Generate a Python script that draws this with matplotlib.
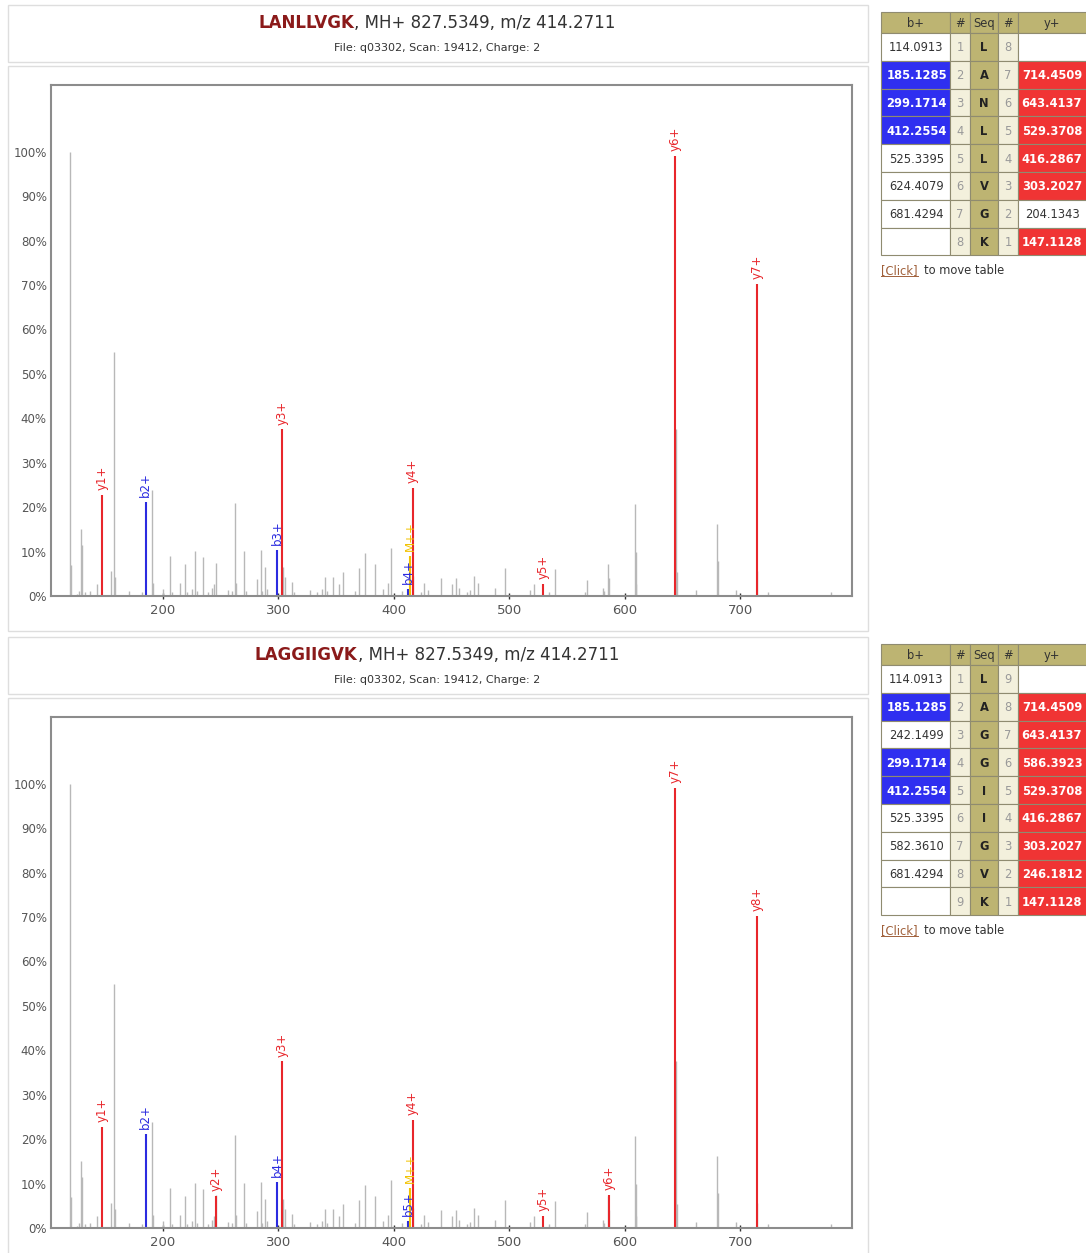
import matplotlib
matplotlib.use('Agg')
import matplotlib.pyplot as plt
from matplotlib.patches import Rectangle

W, H = 1086, 1253

# all peaks of the scan (m/z, relative intensity %)
peak_mz = [119.5, 120.6, 125.2, 127.5, 128.9, 129.6, 132.5, 136.8, 142.7, 154.9,
           157.3, 158.5, 171.0, 181.9, 190.9, 191.8, 200.4, 206.4, 207.6, 214.9,
           219.0, 220.6, 225.0, 227.5, 229.3, 234.8, 239.4, 242.3, 244.0, 246.2,
           256.7, 259.6, 262.2, 263.3, 270.5, 272.0, 281.8, 284.7, 286.1, 288.4,
           290.4, 303.9, 305.9, 311.5, 313.5, 327.4, 333.2, 337.5, 340.5, 341.8,
           347.0, 352.5, 356.1, 366.2, 370.0, 374.9, 383.5, 390.7, 395.1, 398.0,
           406.7, 416.6, 424.0, 426.3, 429.7, 441.3, 450.8, 454.3, 456.3, 463.0,
           465.8, 469.3, 473.0, 487.4, 496.4, 517.7, 521.5, 534.5, 539.4, 565.4,
           567.7, 581.2, 582.5, 585.6, 586.5, 608.7, 609.5, 610.2, 644.2, 645.3,
           662.0, 680.2, 680.7, 696.1, 714.9, 724.1, 779.0]
peak_int = [100, 6.9, 0.4, 1.1, 15.0, 11.4, 0.8, 1.1, 2.8, 5.6,
            54.8, 4.2, 1.1, 0.8, 23.8, 3.0, 1.5, 9.1, 0.8, 3.0,
            7.2, 0.8, 1.5, 10.2, 1.1, 8.8, 0.8, 1.9, 2.7, 7.4,
            1.3, 1.1, 20.9, 3.0, 10.1, 1.1, 3.8, 10.3, 1.1, 6.5,
            1.5, 6.5, 4.2, 3.2, 0.8, 1.3, 0.8, 1.5, 4.3, 1.1,
            4.2, 2.8, 5.3, 1.1, 6.3, 9.6, 7.3, 1.5, 3.0, 10.8,
            1.1, 4.5, 0.8, 3.0, 1.3, 4.1, 2.6, 4.1, 1.9, 0.8,
            1.3, 4.5, 3.0, 1.7, 6.4, 1.3, 2.6, 0.8, 6.0, 0.8,
            3.6, 1.9, 1.1, 7.1, 4.1, 20.7, 9.8, 2.8, 37.5, 5.3,
            1.3, 16.3, 7.9, 1.3, 5.6, 0.9, 0.9]

title_rest = ', MH+ 827.5349, m/z 414.2711'
subtitle = 'File: q03302, Scan: 19412, Charge: 2'

# candidate 1
seq_1 = 'LANLLVGK'
ion_lab_1 = ['y1+', 'b2+', 'b3+', 'y3+', 'b4+', 'M++', 'y4+', 'y5+', 'y6+', 'y7+']
ion_mz_1 = [147.1128, 185.1285, 299.1714, 303.2027, 412.2554, 414.2711, 416.2867,
            529.3708, 643.4137, 714.4509]
ion_int_1 = [22.8, 21.1, 10.3, 37.5, 1.5, 9.0, 24.4, 2.8, 99.0, 70.2]
b_vals_1 = ['114.0913', '185.1285', '299.1714', '412.2554', '525.3395', '624.4079',
            '681.4294', '']
y_vals_1 = ['', '714.4509', '643.4137', '529.3708', '416.2867', '303.2027',
            '204.1343', '147.1128']

# candidate 2
seq_2 = 'LAGGIIGVK'
ion_lab_2 = ['y1+', 'b2+', 'y2+', 'b4+', 'y3+', 'b5+', 'M++', 'y4+', 'y5+', 'y6+',
             'y7+', 'y8+']
ion_mz_2 = [147.1128, 185.1285, 246.1812, 299.1714, 303.2027, 412.2554, 414.2711,
            416.2867, 529.3708, 586.3923, 643.4137, 714.4509]
ion_int_2 = [22.8, 21.1, 7.3, 10.3, 37.5, 1.5, 9.0, 24.4, 2.8, 7.4, 99.0, 70.2]
b_vals_2 = ['114.0913', '185.1285', '242.1499', '299.1714', '412.2554', '525.3395',
            '582.3610', '681.4294', '']
y_vals_2 = ['', '714.4509', '643.4137', '586.3923', '529.3708', '416.2867',
            '303.2027', '246.1812', '147.1128']

x_ticks = [200, 300, 400, 500, 600, 700]
y_ticks = [0, 10, 20, 30, 40, 50, 60, 70, 80, 90, 100]

ion_color = {'y': '#e8262b', 'b': '#2b2be0', 'M': '#f2c200'}
KHAKI = '#bdb472'
BEIGE = '#f3f0dc'
BLUE = '#2f2ff0'
RED = '#f03434'

plt.rcParams['font.family'] = ['DejaVu Sans']

fig = plt.figure(figsize=(W / 100, H / 100), dpi=100)
fig.patch.set_facecolor('white')
bg = fig.add_axes([0, 0, 1, 1])
bg.set_xlim(0, W)
bg.set_ylim(H, 0)
bg.axis('off')
renderer = fig.canvas.get_renderer()


def box(l, t, r, b, face='white', edge='#dedede', lw=1.0):
    bg.add_patch(Rectangle((l, t), r - l, b - t, facecolor=face, edgecolor=edge, lw=lw))


def draw_table(top, seq, b_vals, y_vals, labels):
    cols = [881, 950, 970, 998, 1018, 1092]
    head_h, row_h = 21, 27.8
    n = len(seq)
    heads = ['b+', '#', 'Seq', '#', 'y+']
    for j, h in enumerate(heads):
        box(cols[j], top, cols[j + 1], top + head_h, KHAKI, '#8f8b70', 0.8)
        bg.text((cols[j] + cols[j + 1]) / 2 if j < 4 else 1052, top + head_h / 2 + 1, h,
                ha='center', va='center', fontsize=8.3, color='#333333')
    for i in range(n):
        t = top + head_h + i * row_h
        cy = t + row_h / 2 + 1
        b_hit = ('b%d+' % (i + 1)) in labels and b_vals[i] != ''
        y_hit = ('y%d+' % (n - i)) in labels and y_vals[i] != ''
        box(cols[0], t, cols[1], t + row_h, BLUE if b_hit else 'white', '#8f8b70', 0.8)
        bg.text((cols[0] + cols[1]) / 2 + 1, cy, b_vals[i], ha='center', va='center',
                fontsize=8.3, color='white' if b_hit else '#333333',
                fontweight='bold' if b_hit else 'normal')
        box(cols[1], t, cols[2], t + row_h, BEIGE, '#8f8b70', 0.8)
        bg.text((cols[1] + cols[2]) / 2, cy, str(i + 1), ha='center', va='center',
                fontsize=8.3, color='#999999')
        box(cols[2], t, cols[3], t + row_h, KHAKI, '#8f8b70', 0.8)
        bg.text((cols[2] + cols[3]) / 2, cy, seq[i], ha='center', va='center',
                fontsize=8.3, color='#222222', fontweight='bold')
        box(cols[3], t, cols[4], t + row_h, BEIGE, '#8f8b70', 0.8)
        bg.text((cols[3] + cols[4]) / 2, cy, str(n - i), ha='center', va='center',
                fontsize=8.3, color='#999999')
        box(cols[4], t, cols[5], t + row_h, RED if y_hit else 'white', '#8f8b70', 0.8)
        bg.text(1052, cy, y_vals[i], ha='center', va='center',
                fontsize=8.3, color='white' if y_hit else '#333333',
                fontweight='bold' if y_hit else 'normal')
    cy = top + head_h + n * row_h + 15
    c1 = bg.text(881, cy, '[Click]', ha='left', va='center', fontsize=8.3, color='#a0603a')
    w1 = c1.get_window_extent(renderer).width
    bg.plot([881, 881 + w1], [cy + 6, cy + 6], color='#a0603a', lw=0.7)
    bg.text(881 + w1 + 6, cy, 'to move table', ha='left', va='center', fontsize=8.3,
            color='#333333')


def draw_panel(off, seq, labels, mz, inten, b_vals, y_vals):
    box(8, 5 + off, 868, 62 + off)
    box(8, 66 + off, 868, 631 + off)

    # title: sequence in dark red, then precursor info
    ty = 23 + off
    t1 = bg.text(0, ty, seq, ha='left', va='center', fontsize=12, color='#8b1a1a',
                 fontweight='bold')
    t2 = bg.text(0, ty, title_rest, ha='left', va='center', fontsize=12, color='#333333')
    w1 = t1.get_window_extent(renderer).width
    w2 = t2.get_window_extent(renderer).width
    x0 = 437 - (w1 + w2) / 2
    t1.set_x(x0)
    t2.set_x(x0 + w1)
    bg.text(437, 48 + off, subtitle, ha='center', va='center', fontsize=8,
            color='#333333')

    top, bot = 85 + off, 596 + off
    ax = fig.add_axes([51 / W, 1 - bot / H, 801 / W, (bot - top) / H])
    ax.set_facecolor('white')
    ax.vlines(peak_mz, 0, peak_int, color='#b8b8b8', lw=1.0)
    for lab, m, v in zip(labels, mz, inten):
        c = ion_color[lab[0]]
        ax.vlines(m, 0, v, color=c, lw=1.5)
        ax.annotate(lab, (m, v), xytext=(0, 3.5), textcoords='offset points',
                    rotation=90, ha='center', va='bottom', fontsize=8.5, color=c)
    ax.set_xlim(103, 797)
    ax.set_ylim(0, 115)
    ax.set_xticks(x_ticks)
    ax.set_yticks(y_ticks)
    ax.set_yticklabels(['%d%%' % v for v in y_ticks])
    ax.tick_params(axis='x', direction='inout', length=5, width=1, color='#333333',
                   labelsize=9.5, labelcolor='#555555', pad=3)
    ax.tick_params(axis='y', length=0, labelsize=8.5, labelcolor='#555555', pad=3)
    for s in ax.spines.values():
        s.set_color('#8c8c8c')
        s.set_linewidth(1.5)

    draw_table(12 + off, seq, b_vals, y_vals, labels)


draw_panel(0, seq_1, ion_lab_1, ion_mz_1, ion_int_1, b_vals_1, y_vals_1)
draw_panel(632, seq_2, ion_lab_2, ion_mz_2, ion_int_2, b_vals_2, y_vals_2)

fig.savefig('out.png', dpi=100)
